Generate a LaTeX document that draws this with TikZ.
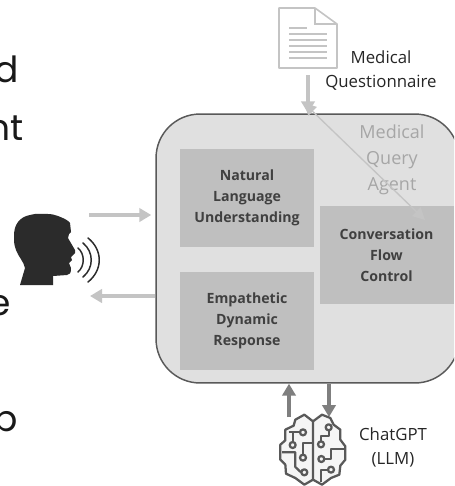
\documentclass[tikz,border=0pt]{standalone}
\usepackage{fontspec}
\setmainfont{Open Sans}
\newfontfamily\bigfont{Poppins}
\usetikzlibrary{arrows.meta,calc}
\definecolor{panel}{HTML}{E0E0E0}
\definecolor{inner}{HTML}{BFBFBF}
\definecolor{edgeg}{HTML}{595959}
\definecolor{lightarrow}{HTML}{C4C4C4}
\definecolor{darkarrow}{HTML}{7F7F7F}
\definecolor{ink}{HTML}{404040}
\definecolor{headc}{HTML}{2B2B2B}
\tikzset{
  x=0.75pt,y=-0.75pt,
  panelbox/.style={draw=edgeg,fill=panel,line width=1.1pt,rounded corners=33pt},
  innerbox/.style={fill=inner,draw=none,minimum width=100.5pt,minimum height=73.5pt,inner sep=0pt,
    font=\fontsize{10.6pt}{15.7pt}\selectfont\bfseries,text=ink,align=center},
  lightflow/.style={draw=lightarrow,line width=3pt,-{Triangle[length=9pt,width=10pt]}},
  darkflow/.style={draw=darkarrow,line width=3pt,-{Triangle[length=9pt,width=10pt]}},
  thinflow/.style={draw=lightarrow,line width=1pt,{Triangle[length=9pt,width=9pt]}-{Triangle[length=9pt,width=9pt]}},
  caption/.style={font=\fontsize{12.6pt}{18pt}\selectfont,text=black!85,align=center},
  bigletters/.style={font=\bigfont\fontsize{27pt}{27pt}\selectfont,text=black!90,anchor=base east,inner sep=0pt},
  circuit/.style={draw=edgeg,line width=1.7pt,line join=round,fill=none},
  docline/.style={draw=lightarrow,line width=1pt},
}
\begin{document}
\begin{tikzpicture}
\useasboundingbox (0,0) rectangle (454,486);
\clip (0,0) rectangle (454,486);
\fill[white] (0,0) rectangle (454,486);

% cropped text at the left
\node[bigletters] (ta) at (19,82) {d};
\node[bigletters] (tb) at (24,140) {nt};
\node[bigletters] (tc) at (11,315) {e};
\node[bigletters] (td) at (18,431) {p};

% main panel
\node[panelbox,minimum width=227.2pt,minimum height=201.7pt,inner sep=0pt] (agent) at (307.5,248.5) {};
\node[innerbox] (nlu) at (247,198) {Natural\\Language\\Understanding};
\node[innerbox] (edr) at (247,321) {Empathetic\\Dynamic\\Response};
\node[innerbox] (cfc) at (386.5,255) {Conversation\\Flow\\Control};
\node[font=\fontsize{13.5pt}{19.6pt}\selectfont,text=black!35,align=center] (mqa) at (392,160) {Medical\\Query\\Agent};

% document icon
\draw[draw=lightarrow,line width=1.2pt,fill=white,line join=round]
  (279,8) -- (315,8) -- (337,24) -- (337,68) -- (279,68) -- cycle;
\draw[draw=lightarrow,line width=1.2pt] (315,8) -- (315,24) -- (337,24);
\draw[docline] (289,28) -- (307,28);
\foreach \yy in {34,40,46,52,58}{\draw[docline] (289,\yy) -- (327,\yy);}
\coordinate (doc) at (308,75);
\node[caption] (mq) at (381,71) {Medical\\Questionnaire};

% head
\fill[headc] (20,285) -- (25,268) .. controls (24,262) and (18,256) .. (16,250)
  .. controls (14,245) and (14,241) .. (14,237)
  .. controls (14,230) and (15,226) .. (18,222)
  .. controls (21,218) and (25,216) .. (30,215)
  .. controls (36,213) and (44,214) .. (48,214)
  .. controls (52,214) and (55,215) .. (58,216)
  .. controls (63,218) and (68,220) .. (70,223)
  -- (71,232) -- (69,234) -- (68,238) -- (75,250) -- (75,253) -- (71,257)
  -- (72,260) -- (69,263) -- (71,268) .. controls (71,273) and (70,275) .. (67,275)
  -- (53,276) -- (53,285) -- cycle;
\coordinate (headin) at (89,215);
\coordinate (headout) at (90,296);
\draw[headc,line width=1.1pt,line cap=round] (78,248) .. controls (85,254) and (85,266) .. (78,272);
\draw[headc,line width=1.1pt,line cap=round] (83,243) .. controls (94,252) and (94,268) .. (83,277);
\draw[headc,line width=1.1pt,line cap=round] (88,238) .. controls (103,250) and (103,270) .. (88,282);

% connectors
\draw[lightflow,shorten >=3pt] (headin) -- (agent.west |- headin);
\draw[lightflow] (agent.west |- headout) -- (headout);
\draw[lightflow] (doc) -- (doc |- agent.north);
\coordinate (dga) at (304,103);
\coordinate (dgb) at (425,220);
\draw[thinflow] (dga) -- (dgb);

% brain
\coordinate (brainup) at (289,417);
\coordinate (braindown) at (329,417);
\draw[darkflow] (brainup) -- (brainup |- agent.south);
\draw[darkflow] (braindown |- agent.south) -- (braindown);
\begin{scope}[shift={(227,243)},x=0.25pt,y=-0.25pt]
  \fill[white!96!black] (258,535) -- (232,515) -- (205,530) -- (200,548) -- (175,560) -- (175,592) -- (160,605) -- (160,650) -- (175,665) -- (177,692) -- (205,705) -- (232,725) -- (258,710) -- (285,725) -- (312,705) -- (337,695) -- (340,668) -- (355,650) -- (355,610) -- (340,590) -- (340,560) -- (320,545) -- (310,525) -- (285,515) -- cycle;
  \draw[circuit] (258,535) -- (232,515) -- (205,530) -- (200,548) -- (175,560) -- (175,592) -- (160,605) -- (160,650) -- (175,665) -- (177,692) -- (205,705) -- (232,725) -- (258,710) -- cycle;
  \draw[circuit] (258,535) -- (285,515) -- (310,525) -- (320,545) -- (340,560) -- (340,590) -- (355,610) -- (355,650) -- (340,668) -- (337,695) -- (312,705) -- (285,725) -- (258,710);
  % left half traces
  \draw[circuit] (185,568) -- (218,568);
  \draw[circuit] (228,568) circle (9);
  \draw[circuit] (197,568) -- (197,597);
  \draw[circuit] (197,606) circle (9);
  \draw[circuit] (258,600) -- (228,600) -- (228,635);
  \draw[circuit] (228,644) circle (9);
  \draw[circuit] (165,628) -- (205,628) -- (205,672) -- (222,688);
  \draw[circuit] (232,688) circle (9);
  % right half traces
  \draw[circuit] (305,553) circle (9);
  \draw[circuit] (305,562) -- (305,578) -- (282,578) -- (282,595);
  \draw[circuit] (282,604) circle (9);
  \draw[circuit] (350,618) -- (312,618) -- (312,648) -- (292,648);
  \draw[circuit] (283,648) circle (9);
  \draw[circuit] (312,680) circle (9);
  \draw[circuit] (303,680) -- (282,680) -- (282,718);
\end{scope}
\node[caption] (gpt) at (393,447.5) {ChatGPT\\(LLM)};
\end{tikzpicture}
\end{document}
